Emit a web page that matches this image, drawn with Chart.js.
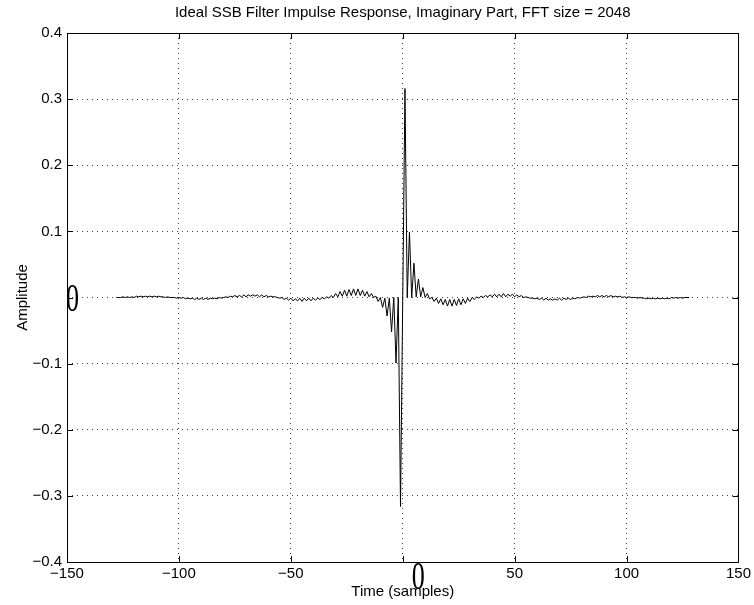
<!DOCTYPE html>
<html>
<head>
<meta charset="utf-8">
<script src="https://cdn.jsdelivr.net/npm/chart.js@4/dist/chart.umd.min.js"></script>
<style>
    html, body { margin: 0; padding: 0; background: #fff; }
</style>
</head>
<body>
<canvas id="chart" width="754" height="605"></canvas>
<script>
// sample index n
const samples = [
    -128, -127, -126, -125, -124, -123, -122, -121, -120, -119, -118, -117, -116, -115, -114, -113,
    -112, -111, -110, -109, -108, -107, -106, -105, -104, -103, -102, -101, -100, -99, -98, -97,
    -96, -95, -94, -93, -92, -91, -90, -89, -88, -87, -86, -85, -84, -83, -82, -81,
    -80, -79, -78, -77, -76, -75, -74, -73, -72, -71, -70, -69, -68, -67, -66, -65,
    -64, -63, -62, -61, -60, -59, -58, -57, -56, -55, -54, -53, -52, -51, -50, -49,
    -48, -47, -46, -45, -44, -43, -42, -41, -40, -39, -38, -37, -36, -35, -34, -33,
    -32, -31, -30, -29, -28, -27, -26, -25, -24, -23, -22, -21, -20, -19, -18, -17,
    -16, -15, -14, -13, -12, -11, -10, -9, -8, -7, -6, -5, -4, -3, -2, -1,
    0, 1, 2, 3, 4, 5, 6, 7, 8, 9, 10, 11, 12, 13, 14, 15,
    16, 17, 18, 19, 20, 21, 22, 23, 24, 25, 26, 27, 28, 29, 30, 31,
    32, 33, 34, 35, 36, 37, 38, 39, 40, 41, 42, 43, 44, 45, 46, 47,
    48, 49, 50, 51, 52, 53, 54, 55, 56, 57, 58, 59, 60, 61, 62, 63,
    64, 65, 66, 67, 68, 69, 70, 71, 72, 73, 74, 75, 76, 77, 78, 79,
    80, 81, 82, 83, 84, 85, 86, 87, 88, 89, 90, 91, 92, 93, 94, 95,
    96, 97, 98, 99, 100, 101, 102, 103, 104, 105, 106, 107, 108, 109, 110, 111,
    112, 113, 114, 115, 116, 117, 118, 119, 120, 121, 122, 123, 124, 125, 126, 127,
    128
];

// imaginary part of the impulse response
const amplitude = [
    0, 0, 0, 0.001, 0, 0.001, 0, 0.001, 0, 0.002, 0.001, 0.002, 0.001, 0.002, 0.001, 0.002,
    0.001, 0.002, 0.001, 0.002, 0.001, 0.001, 0, 0.001, 0, 0, 0, -0.001, 0, -0.001, 0, -0.002,
    -0.001, -0.002, -0.001, -0.003, -0.001, -0.003, -0.001, -0.003, -0.001, -0.003, -0.001, -0.002, -0.001, -0.002, 0, -0.001,
    0, 0.001, 0, 0.002, 0.001, 0.003, 0.001, 0.003, 0.001, 0.004, 0.001, 0.004, 0.002, 0.004, 0.002, 0.004,
    0.001, 0.004, 0.001, 0.003, 0.001, 0.002, 0.001, 0.001, 0, -0.001, 0, -0.003, -0.001, -0.004, -0.001, -0.005,
    -0.002, -0.005, -0.001, -0.006, -0.001, -0.005, -0.001, -0.005, -0.001, -0.004, -0.001, -0.003, 0, -0.002, 0.001, -0.001,
    0.003, 0, 0.006, 0.001, 0.009, 0.002, 0.011, 0.002, 0.012, 0.003, 0.013, 0.003, 0.013, 0.003, 0.011, 0.002,
    0.009, 0.001, 0.006, 0, 0.002, -0.006, 0, -0.015, -0.001, -0.028, -0.001, -0.052, 0, -0.099, 0, -0.316,
    0, 0.316, 0, 0.099, 0, 0.052, 0.001, 0.028, 0.001, 0.015, 0, 0.006, -0.002, 0, -0.006, -0.001,
    -0.009, -0.002, -0.011, -0.003, -0.013, -0.003, -0.013, -0.003, -0.012, -0.002, -0.011, -0.002, -0.009, -0.001, -0.006, 0,
    -0.003, 0.001, -0.001, 0.002, 0, 0.003, 0.001, 0.004, 0.001, 0.005, 0.001, 0.005, 0.001, 0.006, 0.001, 0.005,
    0.002, 0.005, 0.001, 0.004, 0.001, 0.003, 0, 0.001, 0, -0.001, -0.001, -0.002, -0.001, -0.003, -0.001, -0.004,
    -0.001, -0.004, -0.002, -0.004, -0.002, -0.004, -0.001, -0.004, -0.001, -0.003, -0.001, -0.003, -0.001, -0.002, 0, -0.001,
    0, 0.001, 0, 0.002, 0.001, 0.002, 0.001, 0.003, 0.001, 0.003, 0.001, 0.003, 0.001, 0.003, 0.001, 0.002,
    0.001, 0.002, 0, 0.001, 0, 0.001, 0, 0, 0, -0.001, 0, -0.001, -0.001, -0.002, -0.001, -0.002,
    -0.001, -0.002, -0.001, -0.002, -0.001, -0.002, -0.001, -0.002, 0, -0.001, 0, -0.001, 0, -0.001, 0, 0,
    0
];

const xTicks = [-150, -100, -50, 0, 50, 100, 150];
const yTicks = [-0.4, -0.3, -0.2, -0.1, 0, 0.1, 0.2, 0.3, 0.4];

const fontFamily = '"Liberation Sans", Helvetica, Arial, sans-serif';
const minus = (s) => s.replace('-', '\u2212');

// MATLAB style box with inward ticks, plus the odd serif zero labels
const matlabFrame = {
    id: 'matlabFrame',
    afterDraw(c) {
        const {ctx, chartArea: a} = c;
        const x = c.scales.x;
        const y = c.scales.y;
        const tick = 6;
        ctx.save();
        ctx.strokeStyle = '#000';
        ctx.lineWidth = 1;
        ctx.strokeRect(Math.round(a.left) + 0.5, Math.round(a.top) + 0.5,
            Math.round(a.right - a.left), Math.round(a.bottom - a.top));
        ctx.beginPath();
        xTicks.forEach((v) => {
            const px = Math.round(x.getPixelForValue(v)) + 0.5;
            ctx.moveTo(px, a.bottom);
            ctx.lineTo(px, a.bottom - tick);
            ctx.moveTo(px, a.top);
            ctx.lineTo(px, a.top + tick);
        });
        yTicks.forEach((v) => {
            const py = Math.round(y.getPixelForValue(v)) + 0.5;
            ctx.moveTo(a.left, py);
            ctx.lineTo(a.left + tick, py);
            ctx.moveTo(a.right, py);
            ctx.lineTo(a.right - tick, py);
        });
        ctx.stroke();

        ctx.fillStyle = '#000';
        ctx.font = '40px "Liberation Serif", "Times New Roman", serif';
        ctx.textBaseline = 'alphabetic';
        ctx.textAlign = 'left';
        // zero label on y axis
        ctx.save();
        ctx.translate(a.left - 1, y.getPixelForValue(0) + 13);
        ctx.scale(0.65, 1);
        ctx.fillText('0', 0, 0);
        ctx.restore();
        // zero label on x axis
        ctx.save();
        ctx.translate(x.getPixelForValue(0) + 9, a.bottom + 27);
        ctx.scale(0.65, 1);
        ctx.fillText('0', 0, 0);
        ctx.restore();
        ctx.restore();
    }
};

const ctx = document.getElementById('chart').getContext('2d');

new Chart(ctx, {
    type: 'line',
    data: {
        datasets: [{
            data: samples.map((n, i) => ({x: n, y: amplitude[i]})),
            borderColor: '#000',
            borderWidth: 1,
            pointRadius: 0,
            tension: 0,
            fill: false,
        }],
    },
    options: {
        responsive: false,
        animation: false,
        devicePixelRatio: 1,
        layout: {
            padding: {top: 0, right: 15, bottom: 0, left: 0},
        },
        scales: {
            x: {
                type: 'linear',
                min: -150,
                max: 150,
                afterBuildTicks: (scale) => {
                    scale.ticks = xTicks.map((v) => ({value: v}));
                },
                afterFit: (scale) => {
                    scale.height = 43;
                },
                ticks: {
                    padding: 3,
                    color: '#000',
                    font: {family: fontFamily, size: 15},
                    maxRotation: 0,
                    callback: (v) => (v === 0 ? '' : minus(String(v))),
                },
                grid: {
                    color: 'rgba(0,0,0,0.75)',
                    drawTicks: false,
                },
                border: {
                    display: false,
                    dash: [1, 4],
                },
                title: {
                    display: true,
                    text: 'Time (samples)',
                    color: '#000',
                    font: {family: fontFamily, size: 15},
                    padding: {top: 0, bottom: 4},
                },
            },
            y: {
                min: -0.4,
                max: 0.4,
                afterBuildTicks: (scale) => {
                    scale.ticks = yTicks.map((v) => ({value: v}));
                },
                afterFit: (scale) => {
                    scale.width = 67;
                },
                ticks: {
                    padding: 5,
                    color: '#000',
                    font: {family: fontFamily, size: 15},
                    callback: (v) => (Math.abs(v) < 1e-9 ? '' : minus(v.toFixed(1))),
                },
                grid: {
                    color: 'rgba(0,0,0,0.75)',
                    drawTicks: false,
                },
                border: {
                    display: false,
                    dash: [1, 4],
                },
                title: {
                    display: true,
                    text: 'Amplitude',
                    color: '#000',
                    font: {family: fontFamily, size: 15},
                    padding: {top: 14, bottom: 0},
                },
            },
        },
        plugins: {
            legend: {
                display: false,
            },
            tooltip: {
                enabled: false,
            },
            title: {
                display: true,
                fullSize: false,
                text: 'Ideal SSB Filter Impulse Response, Imaginary Part, FFT size = 2048',
                color: '#000',
                font: {family: fontFamily, size: 15, weight: 'normal'},
                padding: {top: 4, bottom: 11},
            },
        },
    },
    plugins: [matlabFrame],
});
</script>
</body>
</html>
